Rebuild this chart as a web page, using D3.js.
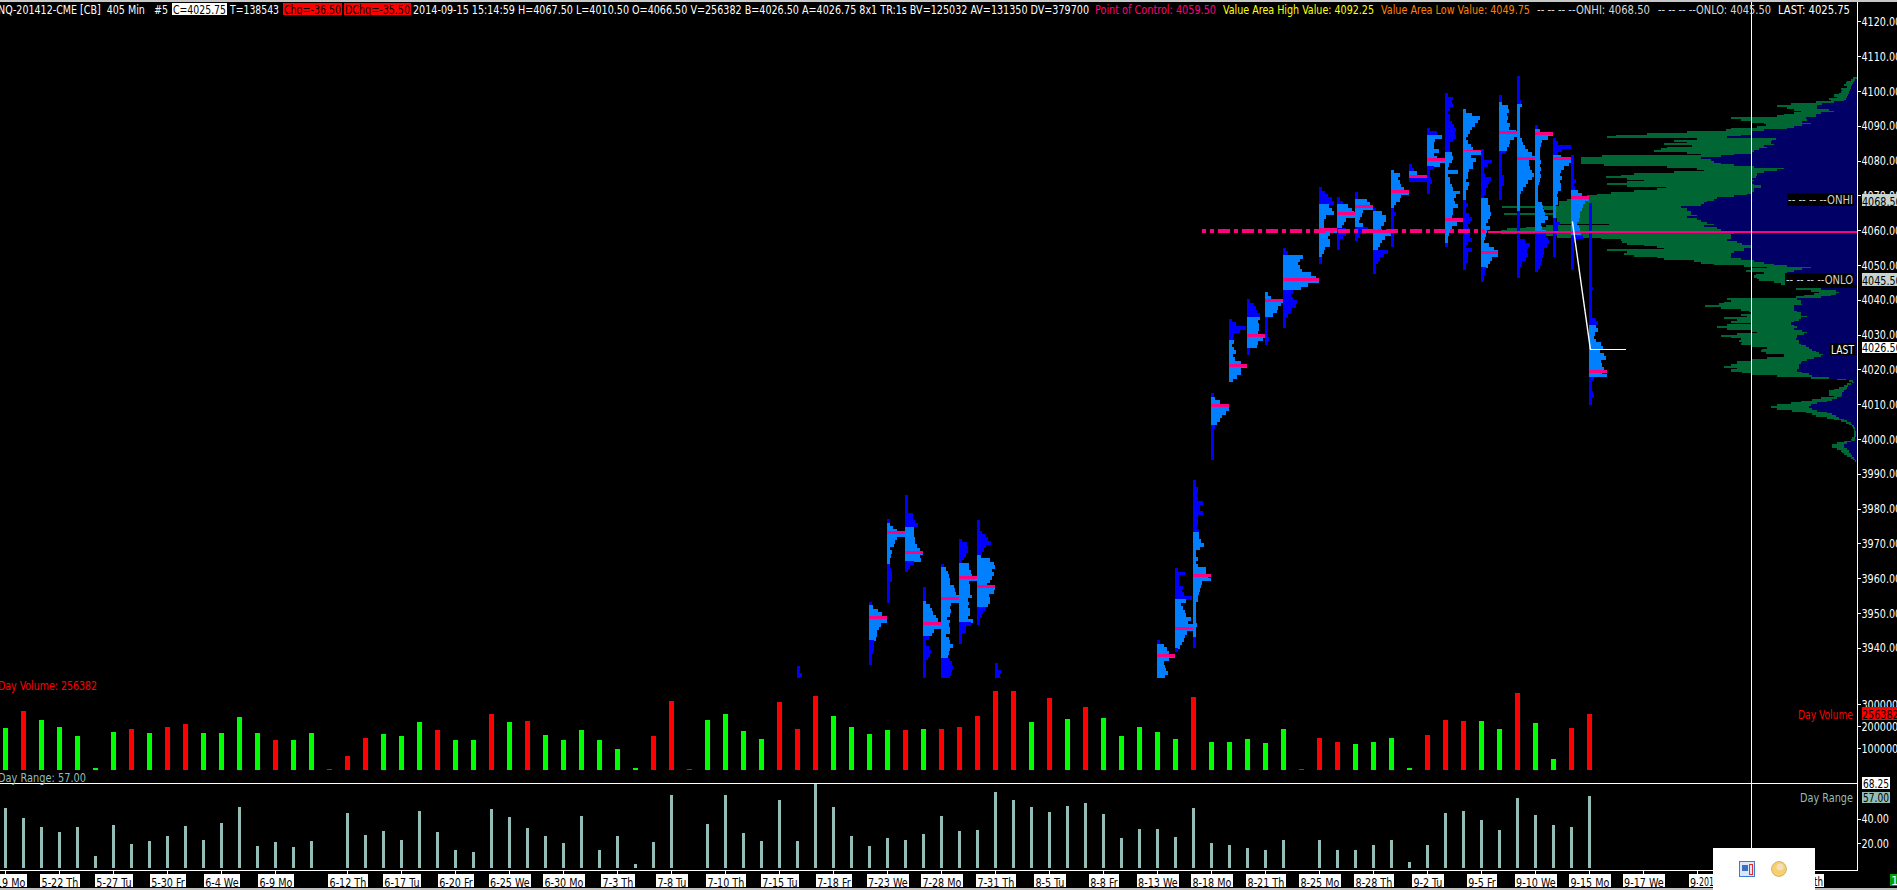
<!DOCTYPE html>
<html><head><meta charset="utf-8"><script src="https://cdn.jsdelivr.net/npm/d3@7"></script>
<style>html,body{margin:0;padding:0;background:#000;overflow:hidden}svg{display:block}text{white-space:pre;font-family:"Liberation Sans Narrow","DejaVu Sans Condensed",sans-serif;font-size:13px}</style>
</head><body><svg id="c" width="1897" height="890"></svg>
<script>
// ---------- daily bars ----------
const dayLabels=[[0,"5-19 Mo"],[3,"5-22 Th"],[6,"5-27 Tu"],[9,"5-30 Fr"],[12,"6-4 We"],[15,"6-9 Mo"],[19,"6-12 Th"],[22,"6-17 Tu"],[25,"6-20 Fr"],[28,"6-25 We"],[31,"6-30 Mo"],[34,"7-3 Th"],[37,"7-8 Tu"],[40,"7-10 Th"],[43,"7-15 Tu"],[46,"7-18 Fr"],[49,"7-23 We"],[52,"7-28 Mo"],[55,"7-31 Th"],[58,"8-5 Tu"],[61,"8-8 Fr"],[64,"8-13 We"],[67,"8-18 Mo"],[70,"8-21 Th"],[73,"8-25 Mo"],[76,"8-28 Th"],[79,"9-2 Tu"],[82,"9-5 Fr"],[85,"9-10 We"],[88,"9-15 Mo"],[91,"9-17 We"],[94,"9-2"]];
const dayVolume=[190900,268000,227000,195000,154000,9000,172000,186000,168000,195000,209000,168000,168000,241000,168000,136000,136000,168000,4000,64000,145000,164000,154000,218000,182000,136000,136000,254000,218000,223000,159000,136000,182000,136000,95000,9000,
154000,314000,4500,227000,254500,177000,141000,309000,186000,336000,245000,195000,164000,182000,182000,186000,186000,195000,245000,359000,359000,218000,327000,232000,286000,236000,154000,195000,173000,141000,332000,127000,127000,141000,123000,186000,4500,
145000,127000,118000,127000,145000,9000,159000,227000,223000,223000,186000,350000,214000,50000,191000,256382];
const dayUp=[1,0,1,1,1,1,1,0,1,0,0,1,1,1,1,0,1,1,0,0,0,1,1,1,0,1,1,0,1,0,1,1,1,1,1,1,
0,0,0,1,1,1,1,0,0,0,1,1,1,1,0,1,0,0,0,0,0,1,0,1,0,1,1,1,1,1,0,1,1,1,1,1,0,
0,0,1,1,1,1,0,0,0,1,1,0,1,1,0,0];
const dayRange=[48.6,40.5,33.2,29.2,33.2,9.7,34.8,19.4,21.9,25.9,34,22.7,36.5,49.4,17.8,21,17,21.9,0,44.6,26.7,30,22.7,46.2,29.2,14.6,13,47.8,41.3,32.4,25.9,20.3,42.1,14.6,25.9,3.2,
21,59.1,0,35.6,59.1,28.4,21.9,55.1,21.9,68.25,49.4,25.9,17.8,24.3,22.7,27.5,42.1,30,30.8,61.6,55.1,49.4,45.4,50.2,52.7,43.7,24.3,31.6,31.6,25.1,48.6,20.3,18.6,16.2,14.6,22.7,0,
22.7,14.6,14.6,18.6,22.7,4.9,18.6,44.6,46.2,38.9,30.8,57,42.9,34.8,33.2,58];
// ---------- per-day market profiles: rows one point apart, from the top price downward ----------
const prof44=[8,8,14,10];
const prof48=[8,12,28,38,48,54,36,30,25,25,20,14,16,16,12,10,9,8];
const prof49=[8,10,18,30,54,30,24,20,10,16,12,10,10,8,12,14,14,14,8,8,8,8,8,8];
const prof50=[8,8,8,8,8,24,24,30,38,28,28,28,30,30,36,44,54,46,48,28,14,10];
const prof51=[8,8,8,8,8,22,26,30,38,44,48,54,34,28,18,10,8,18,24,20,14,10,8,8,8,8];
const prof52=[8,14,20,24,26,28,40,42,44,54,54,30,26,30,28,18,26,24,28,26,16,24,28,36,26,24,20,26,32,36,34,30,28];
const prof53=[8,24,26,28,22,16,10,30,30,36,40,54,30,32,34,32,40,28,30,26,34,32,26,42,36,22,22,10,8,8];
const prof54=[8,8,8,14,28,34,42,28,22,16,12,40,50,54,44,50,46,40,30,54,50,36,38,40,34,26,18,14,10,8];
const prof55=[8,8,18,14,18];
const prof64=[8,22,30,36,54,36,22,24,26,34,24];
const prof65=[8,30,12,12,12,24,20,26,52,34,18,24,30,34,48,40,54,54,36,30,26,20,14,10];
const prof66=[8,8,14,14,12,14,30,22,22,30,14,14,14,12,18,18,18,24,32,22,10,10,14,8,14,38,38,44,54,26,24,20,18,16,16,10,8,8,8,8,8,12,8,8,8,8,8,8];
const prof67=[8,12,26,40,54,44,34,26,18,12,10,8,8,8,8,8,8,8,8];
const prof68=[8,20,50,32,16,12,14,10,14,20,12,18,36,54,36,36,24,12];
const prof69=[8,22,26,30,38,40,32,36,36,32,54,48,34,30,8,8];
const prof70=[8,18,54,48,40,36,24,8,8,8,8,8,8,12,8];
const prof71=[8,16,60,50,46,52,58,84,100,108,76,54,30,24,30,42,38,28,24,16,8,8,8];
const prof73=[8,18,26,40,46,30,40,44,22,16,14,14,54,32,28,34,32,18,14,8,8,8];
const prof74=[8,18,34,46,50,54,28,22,16,26,26,18,8,8,8];
const prof75=[8,8,36,44,54,24,22,14,12,24,38,32,14,8];
const prof76=[8,28,38,40,32,24,18,54,36,26,22,14,44,34,22,14,8,8,8];
const prof77=[8,26,22,26,30,40,54,30,26,14,8,8,14,8,8,8,8,14,8,8,8,8];
const prof78=[8,14,24,30,54];
const prof79=[8,30,44,24,20,22,36,22,30,54,40,22,8,8,12,14,8,8,8];
const prof80=[8,24,22,24,14,10,14,14,20,28,34,30,32,24,14,14,14,22,24,20,12,8,40,10,14,14,22,24,44,34,28,30,38,24,24,22,54,36,22,22,12,8,8,8];
const prof81=[8,28,52,46,36,26,20,16,10,14,24,30,54,24,40,30,30,18,14,14,10,18,14,10,10,10,10,14,8,10,18,28,22,14,18,14,20,26,14,10,28,16,14,14,10,8];
const prof82=[8,8,8,32,22,8,10,12,30,24,22,16,14,8,22,22,28,26,30,26,22,16,26,18,14,12,10,24,38,50,50,32,26,20,16,12,10,8];
const prof83=[8,8,8,26,30,24,26,24,32,30,50,54,44,34,30,24,22,10,10,10,10,10,10,14,14,14,10,8,8,8];
const prof84=[8,8,8,8,8,8,8,12,14,8,8,8,8,8,8,8,10,10,14,18,24,34,44,54,36,36,38,44,50,44,34,26,18,12,10,8,8,10,10,8,8,8,8,8,8,8,10,24,38,34,30,32,28,14,14,10,8,8];
const prof85=[8,14,54,40,22,18,14,16,16,14,18,16,18,16,18,14,12,8,8,8,8,8,20,24,28,30,38,30,18,22,32,34,38,42,36,28,26,24,22,18,14,10];
const prof86=[8,16,54,26,16,24,54,48,32,24,20,26,22,24,24,16,12,14,14,10,10,8,8,8,20,16,14,12,10,8,8,8,8,8];
const prof87=[8,8,8,8,8,8,8,16,8,12,20,32,54,42,36,32,28,26,24,18,24,26,30,36,16,8,8,8,8,8,8,8,8];
const prof88=[8,8,8,8,8,8,8,8,8,8,8,8,8,8,8,8,8,8,8,8,8,8,8,8,12,8,8,8,8,8,8,8,8,22,26,22,28,18,16,20,36,42,34,44,50,36,38,44,40,54,14,8,8,8,12,14,8,8];
const profileRows=[prof44,prof48,prof49,prof50,prof51,prof52,prof53,prof54,prof55,prof64,prof65,prof66,prof67,prof68,prof69,prof70,prof71,prof73,prof74,prof75,prof76,prof77,prof78,prof79,prof80,prof81,prof82,prof83,prof84,prof85,prof86,prof87,prof88];
const profileDay=[44,48,49,50,51,52,53,54,55,64,65,66,67,68,69,70,71,73,74,75,76,77,78,79,80,81,82,83,84,85,86,87,88];
const profileTop=[3934.7,3953.2,3977,3983.8,3957.5,3964.1,3971.3,3976.7,3935.5,3942.2,3962.9,3988.2,4013.1,4034.5,4040.2,4042.2,4054.9,4072.4,4069.5,4071,4066.4,4077.3,4079,4089.4,4099.4,4094.8,4083.3,4098.9,4104.4,4090.1,4086.5,4081.6,4067.8];
const profileVAH=[null,3952,3976,3974.7,3953.2,3963.2,3964.7,3966.4,null,3941.4,3954,3973,4012.2,4028,4035.1,4041.7,4052.9,4067.2,4067.5,4069,4065.2,4077,4077,4087.1,4082.8,4094.3,4069.3,4096.4,4096.3,4089,4081.6,4071.3,4032.8];
const profileVAL=[null,3942,3964.1,3964.4,3943.1,3936.8,3947.7,3952.1,null,3925,3940.2,3943.1,4004,4016.7,4026.7,4035.3,4043.1,4052.6,4060.6,4060.9,4054.3,4066.7,4075,4078.1,4056.2,4069,4049,4082.8,4065.2,4058.9,4063.2,4058.3,4018.1];
const profilePOC=[null,3948.7,3973.2,3967.4,3947,3954.2,3960.1,3957.6,null,3937.7,3945.5,3960.7,4009.6,4021.1,4029.6,4039.8,4045.8,4060.1,4064.8,4066.9,4059.6,4071.1,4075.4,4080.2,4063,4082.8,4053.7,4088.2,4080.7,4087.8,4080.7,4069.3,4019.3];
const pocThinDays=[81];
// ---------- composite profile: rows half a point apart, from 4104 downward ----------
const compositeTop=4104;
const compositeTotal=[13,21,31,36,41,31,51,46,51,56,71,61,86,81,126,201,243,211,191,171,191,221,241,381,351,316,281,276,301,381,396,511,631,726,751,481,551,511,581,496,571,591,611,511,471,766,831,831,831,831,761,571,481,461,551,671,711,756,691,641,691,751,691,576,601,671,741,781,811,841,871,896,896,896,1066,941,906,906,1061,906,906,901,901,896,746,936,996,1051,1071,1071,951,901,771,711,706,691,641,601,581,751,691,701,671,601,581,491,471,431,341,271,321,336,281,306,311,301,296,251,231,0,0,186,141,116,131,161,186,391,381,401,416,459,411,351,326,321,351,331,401,361,381,321,391,421,391,316,301,361,411,381,351,356,346,351,319,271,286,291,276,221,221,271,321,361,361,381,401,361,381,346,321,241,141,61,26,16,31,41,56,71,86,86,86,71,111,136,171,201,241,261,241,196,156,136,126,91,71,51,36,26,16,13,11,11,11,11,11,16,21,41,61,76,76,61,51,46,41,31,21,13,7];
const compositeInner=[3,7,11,13,16,19,21,23,26,26,29,31,36,41,71,106,121,121,86,71,111,126,126,156,151,166,141,166,191,211,281,316,321,351,391,246,256,261,251,281,271,296,311,316,371,411,471,441,431,411,371,311,221,241,281,301,301,306,321,311,321,311,291,291,311,311,321,331,371,421,431,451,461,471,531,511,511,501,501,481,511,481,471,451,431,461,421,411,371,371,381,381,381,391,361,346,321,316,341,341,371,381,381,381,351,311,281,251,211,141,166,191,211,216,216,216,216,216,216,0,0,111,66,56,66,81,111,181,171,171,166,191,191,191,181,171,171,151,171,176,191,201,191,181,191,166,151,161,181,181,186,176,176,171,156,146,136,126,116,103,111,131,151,166,171,176,176,176,181,166,146,136,86,36,13,11,21,29,31,36,41,46,46,51,61,76,91,121,141,146,136,121,91,76,66,56,41,31,21,16,11,9,7,5,5,5,5,7,9,21,31,41,41,31,26,26,21,16,11,9,5];
// ---------- levels and axis values ----------
const pointOfControl=4059.5, lastPrice=4025.75, closeDay87=4062.5, onhi=4068.5, onlo=4045.5, lastBox=4026.5;
const priceTicks=[3940,3950,3960,3970,3980,3990,4000,4010,4020,4030,4040,4050,4060,4070,4080,4090,4100,4110,4120];
const volumeTicks=[100000,200000,300000];
const rangeTicks=[20,40];
const headerTexts=["NQ-201412-CME [CB]  405 Min   #5","C=4025.75","T=138543","Chg=-36.50","DChg=-35.50","2014-09-15 15:14:59 H=4067.50 L=4010.50 O=4066.50 V=256382 B=4026.50 A=4026.75 8x1 TR:1s BV=125032 AV=131350 DV=379700","Point of Control: 4059.50","Value Area High Value: 4092.25","Value Area Low Value: 4049.75","-- -- -- --ONHI: 4068.50","-- -- -- --ONLO: 4045.50","LAST: 4025.75"];

// ---------- layout & style ----------
const headerX0=[-2,172,230,283,344,413,1095,1223,1381,1537,1658,1778];
const headerX1=[168,227,279,342,411,1089,1216,1374,1530,1650,1771,1850];
const headerFill=["#fff","#000","#fff","#000","#000","#fff","#ff0080","#ffff00","#ff8000","#d8d8d8","#d8d8d8","#fff"];
const headerBg=[null,"#fff",null,"#ff0000","#ff0000",null,null,null,null,null,null,null];
const C={dark:"#0000ff",light:"#0080ff",poc:"#ff0080",green:"#006633",navy:"#000066",up:"#00ff00",down:"#ff0000",range:"#93bdb6"};
const RIGHT=1857.5, TEXT_SQUEEZE=0.82;

const svg=d3.select("#c");
const x=d3.scaleLinear().domain([0,88]).range([5.4,1589.4]);
const y=d3.scaleLinear().domain([4100,4000]).range([91,439]);
const yVol=d3.scaleLinear().domain([0,300000]).range([770,704]);
const yRng=d3.scaleLinear().domain([0,20]).range([868,843.3]);
const wDay=d3.scaleLinear().domain([0,54]).range([0,18]);
const wComp=d3.scaleLinear().domain([0,1071]).range([0,357]);
const rowH=y(0)-y(1);

function squeeze(sel){sel.each(function(){const n=d3.select(this);
  n.attr("textLength",this.getComputedTextLength()*TEXT_SQUEEZE).attr("lengthAdjust","spacingAndGlyphs");});}

svg.append("defs").append("clipPath").attr("id","pane").append("rect").attr("width",1858).attr("height",678);
const price=svg.append("g").attr("clip-path","url(#pane)").attr("shape-rendering","crispEdges");

// composite profile
const compStep=0.5, compH=y(0)-y(compStep);
price.append("g").selectAll("rect").data(compositeTotal).join("rect")
  .attr("x",d=>RIGHT-wComp(d)).attr("width",d=>wComp(d))
  .attr("y",(d,j)=>y(compositeTop-j*compStep)).attr("height",compH+0.4).attr("fill",C.green);
price.append("g").selectAll("rect").data(compositeInner).join("rect")
  .attr("x",d=>RIGHT-wComp(d)).attr("width",d=>wComp(d))
  .attr("y",(d,j)=>y(compositeTop-j*compStep)).attr("height",compH+0.4).attr("fill",C.navy);

// daily profiles
profileRows.forEach((rows,k)=>{
  const g=price.append("g"), left=x(profileDay[k])-0.4, top=profileTop[k], hi=profileVAH[k], lo=profileVAL[k], poc=profilePOC[k];
  g.selectAll("rect").data(rows).join("rect")
    .attr("x",left).attr("width",d=>wDay(d))
    .attr("y",(d,j)=>y(top-j)).attr("height",rowH+0.4)
    .attr("fill",(d,j)=>{const p=top-j-0.5;return hi!==null&&p<=hi&&p>=lo?C.light:C.dark;});
  if(poc!==null){
    const thin=pocThinDays.includes(profileDay[k]);
    g.append("rect").attr("x",left).attr("width",wDay(d3.max(rows)))
      .attr("y",y(poc)-(thin?0.5:1.5)).attr("height",thin?1:3).attr("fill",C.poc);
  }
});

// composite point of control
price.append("line").attr("x1",1202).attr("x2",1488).attr("y1",y(pointOfControl)-1).attr("y2",y(pointOfControl)-1)
  .attr("stroke",C.poc).attr("stroke-width",3.6).attr("stroke-dasharray","3.6 4 4 4 12 4 4 4 12 4 4 4 12 4 4 4 12 4 4 4 12 4 4 4 12 4 4 4 12 4 4 4 12 4 4 4 12 4 4 4 12 4 4 4 12 4 4 4");
price.append("line").attr("x1",1488).attr("x2",RIGHT).attr("y1",y(pointOfControl)).attr("y2",y(pointOfControl))
  .attr("stroke",C.poc).attr("stroke-width",2);

// last-price line
const closeLine=[[87,closeDay87],[88,lastPrice]];
const line=d3.line().x(d=>x(d[0])+1).y(d=>y(d[1]));
svg.append("path").attr("d",line(closeLine)).attr("fill","none").attr("stroke","#fff").attr("stroke-width",1.4);
svg.append("line").attr("x1",x(88)+1).attr("x2",1626).attr("y1",y(lastPrice)).attr("y2",y(lastPrice)).attr("stroke","#fff").attr("stroke-width",1.2).attr("shape-rendering","crispEdges");

// volume bars
svg.append("g").attr("shape-rendering","crispEdges").selectAll("rect").data(dayVolume).join("rect")
  .attr("x",(d,i)=>x(i)-2.5).attr("width",5).attr("y",d=>yVol(d)).attr("height",d=>yVol(0)-yVol(d))
  .attr("fill",(d,i)=>dayUp[i]?C.up:C.down);
// range bars
svg.append("g").attr("shape-rendering","crispEdges").selectAll("rect").data(dayRange).join("rect")
  .attr("x",(d,i)=>x(i)-1.4).attr("width",2.8).attr("y",d=>yRng(d)).attr("height",d=>yRng(0)-yRng(d))
  .attr("fill",C.range);

// axis frame lines
const frame=svg.append("g").attr("shape-rendering","crispEdges");
frame.append("rect").attr("x",0).attr("y",0).attr("width",1897).attr("height",2).attr("fill","#c8c8c8");
frame.append("rect").attr("x",0).attr("y",783).attr("width",1858).attr("height",1).attr("fill","#fff");
frame.append("rect").attr("x",1751).attr("y",2).attr("width",1).attr("height",868).attr("fill","#fff");

// axes
function styleAxis(g){g.selectAll("path").attr("stroke","#fff").attr("shape-rendering","crispEdges");
  g.selectAll("line").attr("stroke","#fff").attr("shape-rendering","crispEdges");
  g.selectAll("text").attr("fill","#fff").style("font-size","13px").call(squeeze);}
function rightAxis(scale,ticks,fmt){
  svg.append("g").attr("transform",`translate(${RIGHT},0)`)
    .call(d3.axisRight(scale).tickValues(ticks).tickFormat(fmt).tickSize(3).tickSizeOuter(0).tickPadding(1)).call(styleAxis)
    .call(g=>g.select("path").remove());
}
rightAxis(y,priceTicks,d3.format(".2f"));
rightAxis(yVol,volumeTicks,d3.format("d"));
rightAxis(yRng,rangeTicks,d3.format(".2f"));
frame.append("rect").attr("x",1857).attr("y",2).attr("width",1).attr("height",868).attr("fill","#fff");

// date axis
const xAxisG=svg.append("g").attr("transform","translate(0,870.5)")
  .call(d3.axisBottom(x).tickValues(dayLabels.map(d=>d[0])).tickFormat(d=>dayLabels.find(l=>l[0]===d)[1]).tickSize(3).tickSizeOuter(0).tickPadding(5));
xAxisG.select("path").attr("d","M0,0H1858").attr("stroke","#fff").attr("shape-rendering","crispEdges");
xAxisG.selectAll("line").attr("stroke","#fff").attr("shape-rendering","crispEdges");
xAxisG.selectAll(".tick").each(function(){
  const t=d3.select(this), tx=t.select("text").attr("fill","#000").style("font-size","13px").attr("y",4).attr("dy","0.95em").call(squeeze);
  const w=+tx.attr("textLength")+3;
  t.insert("rect","text").attr("x",-w/2).attr("y",3.5).attr("width",w).attr("height",13).attr("fill","#fff").attr("shape-rendering","crispEdges");
});

// helper: text, optional box
function label(txt,x0,x1,yc,fill,bg,boxY0,boxY1){
  if(bg) svg.append("rect").attr("x",x0).attr("y",boxY0).attr("width",x1-x0).attr("height",boxY1-boxY0).attr("fill",bg).attr("shape-rendering","crispEdges");
  svg.append("text").attr("x",x0+(bg?1:0)).attr("y",yc).attr("dy","0.36em").attr("fill",fill).text(txt)
    .attr("textLength",x1-x0-(bg?2:0)).attr("lengthAdjust","spacingAndGlyphs");
}
// right-edge box: runs off the page like the axis values beside it
function edgeLabel(txt,yc,fill,bg,boxY0,boxY1){
  svg.append("rect").attr("x",1862).attr("y",boxY0).attr("width",35).attr("height",boxY1-boxY0).attr("fill",bg).attr("shape-rendering","crispEdges");
  svg.append("text").attr("x",1862).attr("y",yc).attr("dy","0.36em").attr("fill",fill).text(txt).call(squeeze);
}
// header
headerTexts.forEach((t,k)=>label(t,headerX0[k],headerX1[k],9,headerFill[k],headerBg[k],3,15));

// right-side level boxes
edgeLabel(d3.format(".2f")(onhi),y(onhi)+0.5,"#000","#c8d4d0",193.5,205.5);
edgeLabel(d3.format(".2f")(onlo),y(onlo)-0.5,"#000","#c8d4d0",273,285.5);
edgeLabel(d3.format(".2f")(lastBox),y(lastBox)+0.5,"#000","#fff",342,353);
label("-- -- -- --ONHI",1787,1854,199.5,"#d0d0d0","#000",193,205.5);
label("-- -- -- --ONLO",1785,1854,279.5,"#d0d0d0","#000",273,286);
label("LAST",1830,1855,349,"#fff","#000",343,355);

// pane captions
label("Day Volume: 256382",-2,97,685,"#ff0000");
label("Day Range: 57.00",-2,86,777,C.range);
label("Day Volume",1798,1853,714,"#ff0000");
edgeLabel("256382",714,"#000","#ff0000",707,720);
label("68.25",1862,1890,783,"#000","#fff",777,788.5);
label("Day Range",1800,1853,797.5,C.range);
label("57.00",1862,1890,797.5,"#000",C.range,792,803);

// hover date label fragments, tray overlay
label("201",1698,1715,881,"#000","#fff",874,887);
label("th",1813,1824,881,"#000","#fff",874,887);
frame.append("rect").attr("x",0).attr("y",888).attr("width",1897).attr("height",2).attr("fill","#bdbdbd");
const tray=svg.append("g");
tray.append("rect").attr("x",1713).attr("y",848).attr("width",102).attr("height",42).attr("fill","#fff").attr("shape-rendering","crispEdges");
tray.append("rect").attr("x",1739.5).attr("y",861.5).attr("width",15).attr("height",15).attr("fill","#dbe7f8").attr("stroke","#3a7bd5").attr("shape-rendering","crispEdges");
tray.append("rect").attr("x",1742).attr("y",865).attr("width",6).attr("height",6).attr("fill","#3a6fc4").attr("shape-rendering","crispEdges");
tray.append("rect").attr("x",1749).attr("y",864).attr("width",3).attr("height",10).attr("fill","none").attr("stroke","#e03030").attr("shape-rendering","crispEdges");
tray.append("circle").attr("cx",1779).attr("cy",869).attr("r",7.5).attr("fill","#f6cf6e").attr("stroke","#b8964a").attr("stroke-width",0.6);
tray.append("circle").attr("cx",1780).attr("cy",867).attr("r",3.5).attr("fill","#f4dfb8");
svg.append("rect").attr("x",1890).attr("y",874).attr("width",7).attr("height",12).attr("fill","#00a000").attr("shape-rendering","crispEdges");
svg.append("text").attr("x",1891).attr("y",880).attr("dy","0.36em").attr("fill","#fff").text("1");
</script></body></html>
